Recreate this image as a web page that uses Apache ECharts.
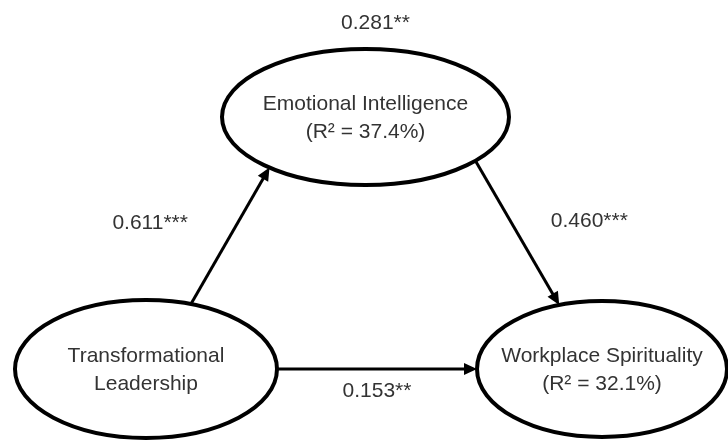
<!DOCTYPE html>
<html>
<head>
    <meta charset="utf-8"/>
    <title>Path model</title>
    <script src="https://cdn.jsdelivr.net/npm/echarts@6/dist/echarts.min.js"></script>
    <style type="text/css">
        html, body { margin: 0; padding: 0; background: #fff; }
        #main { width: 728px; height: 442px; }
    </style>
</head>
<body>
<div id="main"></div>
<script type="text/javascript">
    // constructs (nodes)
    var nodeNames = ['Transformational\nLeadership', 'Emotional Intelligence\n(R\u00b2 = 37.4%)', 'Workplace Spirituality\n(R\u00b2 = 32.1%)'];
    var nodeX = [146, 365.5, 602];
    var nodeY = [369, 117, 369];
    var nodeRx = [131, 143.5, 125];
    var nodeRy = [69, 68, 68];

    // paths (edges) with coefficients
    var edgeFrom = [0, 1, 0];
    var edgeTo = [1, 2, 2];
    var edgeFromAngle = [-70, 40, 0];
    var edgeToAngle = [132, -110, 180];
    var edgeLabels = ['0.611***', '0.460***', '0.153**'];

    // indirect effect, shown above the mediator
    var indirectLabel = '0.281**';
    var indirectNode = 1;

    var FONT = '21px "Liberation Sans", Arial, sans-serif';
    var TEXT_COLOR = '#333';
    var labelOffset = [[-80, -13], [72, -12], [0, 22]];

    function onEllipse(i, deg) {
        var t = deg * Math.PI / 180;
        return [nodeX[i] + nodeRx[i] * Math.cos(t), nodeY[i] + nodeRy[i] * Math.sin(t)];
    }

    var nodeData = [];
    for (var i = 0; i < nodeNames.length; i++) {
        nodeData.push([nodeX[i], nodeY[i], nodeRx[i], nodeRy[i], i]);
    }
    var edgeData = [];
    for (var j = 0; j < edgeFrom.length; j++) {
        var a = onEllipse(edgeFrom[j], edgeFromAngle[j]);
        var b = onEllipse(edgeTo[j], edgeToAngle[j]);
        edgeData.push([a[0], a[1], b[0], b[1], j]);
    }

    var myChart = echarts.init(document.getElementById('main'));

    var option = {
        animation: false,
        grid: { left: 0, right: 0, top: 0, bottom: 0 },
        xAxis: { type: 'value', min: 0, max: 728, show: false },
        yAxis: { type: 'value', min: 0, max: 442, inverse: true, show: false },
        series: [
            {
                type: 'custom',
                clip: false,
                z: 2,
                data: nodeData,
                renderItem: function (params, api) {
                    var c = api.coord([api.value(0), api.value(1)]);
                    var s = api.size([api.value(2), api.value(3)]);
                    var idx = api.value(4);
                    var children = [{
                        type: 'ellipse',
                        shape: { cx: c[0], cy: c[1], rx: s[0], ry: s[1] },
                        style: { fill: '#fff', stroke: '#000', lineWidth: 4 }
                    }, {
                        type: 'text',
                        style: {
                            text: nodeNames[idx], x: c[0], y: c[1] + 1,
                            align: 'center', verticalAlign: 'middle',
                            font: FONT, fill: TEXT_COLOR, lineHeight: 28
                        }
                    }];
                    if (idx === indirectNode) {
                        children.push({
                            type: 'text',
                            style: {
                                text: indirectLabel, x: c[0] + 10, y: c[1] - s[1] - 26,
                                align: 'center', verticalAlign: 'middle',
                                font: FONT, fill: TEXT_COLOR
                            }
                        });
                    }
                    return { type: 'group', children: children };
                }
            },
            {
                type: 'custom',
                clip: false,
                z: 3,
                data: edgeData,
                renderItem: function (params, api) {
                    var p1 = api.coord([api.value(0), api.value(1)]);
                    var p2 = api.coord([api.value(2), api.value(3)]);
                    var k = api.value(4);
                    var dx = p2[0] - p1[0], dy = p2[1] - p1[1];
                    var len = Math.sqrt(dx * dx + dy * dy);
                    var ux = dx / len, uy = dy / len;
                    var headLen = 13, headW = 6;
                    var bx = p2[0] - ux * headLen, by = p2[1] - uy * headLen;
                    var mx = (p1[0] + p2[0]) / 2, my = (p1[1] + p2[1]) / 2;
                    return {
                        type: 'group',
                        children: [{
                            type: 'line',
                            shape: { x1: p1[0], y1: p1[1], x2: bx + ux, y2: by + uy },
                            style: { stroke: '#000', lineWidth: 3 }
                        }, {
                            type: 'polygon',
                            shape: { points: [
                                [p2[0], p2[1]],
                                [bx - uy * headW, by + ux * headW],
                                [bx + uy * headW, by - ux * headW]
                            ] },
                            style: { fill: '#000' }
                        }, {
                            type: 'text',
                            style: {
                                text: edgeLabels[k],
                                x: mx + labelOffset[k][0], y: my + labelOffset[k][1],
                                align: 'center', verticalAlign: 'middle',
                                font: FONT, fill: TEXT_COLOR
                            }
                        }]
                    };
                }
            }
        ]
    };
    myChart.setOption(option);
</script>
</body>
</html>
